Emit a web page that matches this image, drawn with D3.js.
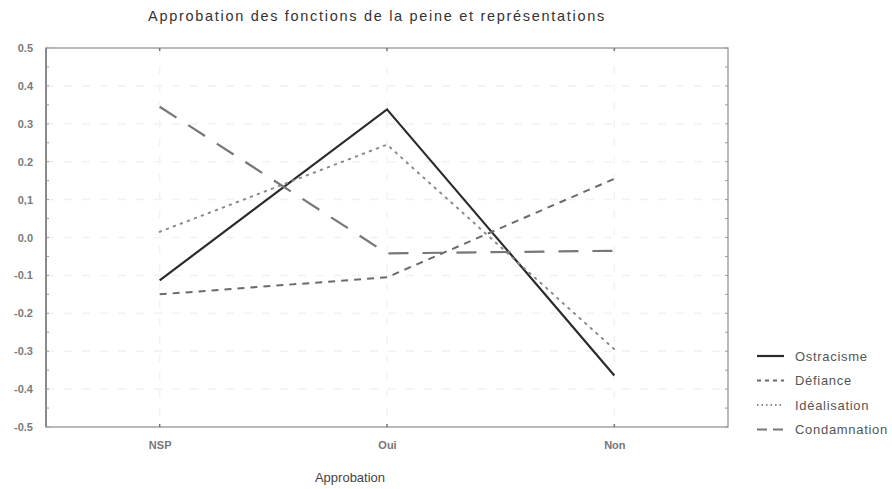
<!DOCTYPE html>
<html><head><meta charset="utf-8">
<script src="https://cdn.jsdelivr.net/npm/d3@7"></script>
<style>body{margin:0;background:#fff}svg{display:block}</style>
</head><body>
<svg id="c" width="892" height="489"></svg>
<script>
const categories = ["NSP", "Oui", "Non"];
const seriesNames = ["Ostracisme", "Défiance", "Idéalisation", "Condamnation"];
const ostracisme = [-0.113, 0.338, -0.364];
const defiance = [-0.150, -0.105, 0.155];
const idealisation = [0.015, 0.245, -0.295];
const condamnation = [0.345, -0.042, -0.035];
const yTicks = [0.5, 0.4, 0.3, 0.2, 0.1, 0.0, -0.1, -0.2, -0.3, -0.4, -0.5];
const yTickLabels = ["0.5", "0.4", "0.3", "0.2", "0,1", "0.0", "-0.1", "-0.2", "-0.3", "-0.4", "-0.5"];

const series = [
  {name: seriesNames[0], values: ostracisme, color: "#2b2b2b", width: 2.2, dash: null},
  {name: seriesNames[1], values: defiance, color: "#6a6a6a", width: 2, dash: "7,6"},
  {name: seriesNames[2], values: idealisation, color: "#8a8a8a", width: 2, dash: "1.5,6"},
  {name: seriesNames[3], values: condamnation, color: "#777", width: 2.2, dash: "20,14"}
];

const svg = d3.select("#c");
const L = 46, R = 728, T = 48, B = 427;
const x = d3.scalePoint().domain(categories).range([L, R]).padding(0.5);
const y = d3.scaleLinear().domain([-0.5, 0.5]).range([B, T]);

// grid
const g = svg.append("g");
g.selectAll("line.hg").data(yTicks.filter(d => d > -0.5 && d < 0.5)).join("line")
  .attr("x1", L).attr("x2", R).attr("y1", d => y(d)).attr("y2", d => y(d))
  .attr("stroke", "#f1f1f1").attr("stroke-width", 1.5).attr("stroke-dasharray", "8,10");
g.selectAll("line.vg").data(categories).join("line")
  .attr("y1", T).attr("y2", B).attr("x1", d => x(d)).attr("x2", d => x(d))
  .attr("stroke", "#f3f3f3").attr("stroke-width", 1.5).attr("stroke-dasharray", "8,10");

// frame
svg.append("rect").attr("x", L).attr("y", T).attr("width", R - L).attr("height", B - T)
  .attr("fill", "none").attr("stroke", "#8a8a8a").attr("stroke-width", 1.2);
svg.append("line").attr("x1", L).attr("x2", L).attr("y1", T).attr("y2", B)
  .attr("stroke", "#8a8a8a").attr("stroke-width", 2);

// y axis
const yAxis = d3.axisLeft(y).tickValues(yTicks).tickSize(0).tickPadding(13)
  .tickFormat((d, i) => yTickLabels[i]);
const ya = svg.append("g").attr("transform", `translate(${L},0)`).call(yAxis);
ya.select(".domain").remove();
ya.selectAll("text").attr("font-family", "Liberation Sans, Arial, sans-serif")
  .attr("font-size", 11).attr("font-weight", "bold").attr("fill", "#7a7a7a");
// inner ticks left and right
const minor = d3.range(-0.5, 0.5001, 0.05);
svg.append("g").selectAll("line").data(minor).join("line")
  .attr("x1", L).attr("x2", L + 3).attr("y1", d => y(d)).attr("y2", d => y(d))
  .attr("stroke", "#999");
svg.append("g").selectAll("line").data(minor).join("line")
  .attr("x1", R - 3).attr("x2", R).attr("y1", d => y(d)).attr("y2", d => y(d))
  .attr("stroke", "#999");

// x axis
const xAxis = d3.axisBottom(x).tickSize(0).tickPadding(14);
const xa = svg.append("g").attr("transform", `translate(0,${B})`).call(xAxis);
xa.select(".domain").remove();
xa.selectAll("text").attr("font-family", "Liberation Sans, Arial, sans-serif")
  .attr("font-size", 11).attr("font-weight", "bold").attr("fill", "#777");
svg.append("g").selectAll("line").data(categories).join("line")
  .attr("x1", d => x(d)).attr("x2", d => x(d)).attr("y1", B - 3).attr("y2", B)
  .attr("stroke", "#777").attr("stroke-width", 1.5);
svg.append("g").selectAll("line").data(categories).join("line")
  .attr("x1", d => x(d)).attr("x2", d => x(d)).attr("y1", T).attr("y2", T + 3)
  .attr("stroke", "#777").attr("stroke-width", 1.5);

// lines
const line = d3.line().x((d, i) => x(categories[i])).y(d => y(d));
series.forEach(s => {
  svg.append("path").datum(s.values).attr("d", line)
    .attr("fill", "none").attr("stroke", s.color).attr("stroke-width", s.width)
    .attr("stroke-dasharray", s.dash).attr("stroke-linecap", s.dash && s.dash.startsWith("1.5") ? "round" : "butt");
});

// title
svg.append("text").attr("x", 377).attr("y", 21).attr("text-anchor", "middle")
  .attr("font-family", "Liberation Sans, Arial, sans-serif").attr("font-size", 14.5)
  .attr("letter-spacing", 1.7)
  .attr("fill", "#333").text("Approbation des fonctions de la peine et représentations");
svg.append("text").attr("x", 350).attr("y", 482).attr("text-anchor", "middle")
  .attr("font-family", "Liberation Sans, Arial, sans-serif").attr("font-size", 13)
  .attr("fill", "#444").text("Approbation");

// legend
const lg = svg.append("g");
series.forEach((s, i) => {
  const yy = 356 + i * 24.5;
  lg.append("line").attr("x1", 757).attr("x2", 784).attr("y1", yy).attr("y2", yy)
    .attr("stroke", s.color).attr("stroke-width", s.width)
    .attr("stroke-dasharray", s.dash ? (i === 1 ? "4,4" : i === 2 ? "1.5,3" : "10,6") : null);
  lg.append("text").attr("x", 795).attr("y", yy + 4.5)
    .attr("font-family", "Liberation Sans, Arial, sans-serif")
    .attr("font-size", 13).attr("letter-spacing", 0.7).attr("fill", "#555").text(s.name);
});
</script>
</body></html>
